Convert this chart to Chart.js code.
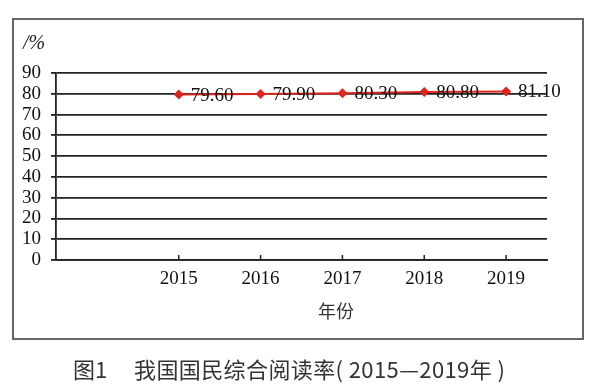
<!DOCTYPE html>
<html>
<head>
<meta charset="utf-8">
<script src="https://cdn.jsdelivr.net/npm/chart.js@4.4.1/dist/chart.umd.min.js"></script>
<style>
    body { margin: 0; background: #fff; }
    #wrap { position: relative; width: 600px; height: 391px; overflow: hidden; }
    #frame { position: absolute; left: 12px; top: 18px; width: 568px; height: 318px; border: 2px solid #666; }
    canvas { position: absolute; left: 0; top: 0; }
    .txt { position: absolute; white-space: pre; color: #222; }
    #unit { left: 23px; top: 31px; font: italic 20px "Liberation Serif", serif; }
    #xtitle { left: 318px; top: 297px; font: 18px "Noto Sans CJK SC", sans-serif; color: #333; }
    .cap { top: 352px; font: 22px "Noto Sans CJK SC", sans-serif; color: #333; }
    #cap1 { left: 73px; }
    #cap2 { left: 134px; letter-spacing: 0.4px; }
</style>
</head>
<body>
<div id="wrap">
    <div id="frame"></div>
    <canvas id="rateChart" width="600" height="391"></canvas>
    <div class="txt" id="unit">/%</div>
    <div class="txt" id="xtitle">年份</div>
    <div class="txt cap" id="cap1">图1</div>
    <div class="txt cap" id="cap2">我国国民综合阅读率( 2015—2019年 )</div>
</div>
<script>
// first slot is an empty category, as in the original chart
const years = ['', '2015', '2016', '2017', '2018', '2019'];
const readingRate = [null, 79.6, 79.9, 80.3, 80.8, 81.1];
const yTicks = [0, 10, 20, 30, 40, 50, 60, 70, 80, 90];

const lineColor = '#222';

// value labels to the right of each point
const valueLabels = {
    id: 'valueLabels',
    afterDatasetsDraw(chart) {
        const ctx = chart.ctx;
        const meta = chart.getDatasetMeta(0);
        ctx.save();
        ctx.font = '19px "Liberation Serif", serif';
        ctx.fillStyle = '#111';
        ctx.textAlign = 'left';
        ctx.textBaseline = 'middle';
        meta.data.forEach((pt, i) => {
            if (readingRate[i] == null) return;
            ctx.fillText(readingRate[i].toFixed(2), pt.x + 12, pt.y + 1);
        });
        ctx.restore();
    }
};

// small upward tick marks on the x axis
const xTickMarks = {
    id: 'xTickMarks',
    afterDraw(chart) {
        const ctx = chart.ctx;
        const x = chart.scales.x;
        const bottom = chart.chartArea.bottom;
        ctx.save();
        ctx.strokeStyle = lineColor;
        ctx.lineWidth = 1.5;
        years.forEach((y, i) => {
            if (!y) return;
            const px = x.getPixelForTick(i);
            ctx.beginPath();
            ctx.moveTo(px, bottom);
            ctx.lineTo(px, bottom - 5);
            ctx.stroke();
        });
        ctx.restore();
    }
};

new Chart(document.getElementById('rateChart'), {
    type: 'line',
    data: {
        labels: years,
        datasets: [{
            data: readingRate,
            borderColor: '#e0261c',
            backgroundColor: '#e0261c',
            borderWidth: 2,
            pointStyle: 'rectRot',
            pointRadius: 5,
            pointBorderWidth: 0,
            spanGaps: true
        }]
    },
    options: {
        responsive: false,
        animation: false,
        layout: { padding: { left: 0, right: 53, top: 73, bottom: 91 } },
        plugins: { legend: { display: false }, tooltip: { enabled: false } },
        scales: {
            x: {
                offset: true,
                grid: { drawOnChartArea: false, drawTicks: false },
                border: { display: true, color: lineColor, width: 1.8 },
                ticks: { color: '#111', padding: 8, font: { family: 'Liberation Serif', size: 19 }, maxRotation: 0, autoSkip: false },
                afterFit(scale) { scale.height = 40; }
            },
            y: {
                min: 0,
                max: 90,
                afterBuildTicks(scale) { scale.ticks = yTicks.map(v => ({ value: v })); },
                grid: { color: lineColor, lineWidth: 1.8, drawTicks: true, tickLength: 5, tickColor: lineColor },
                border: { display: true, color: lineColor, width: 1.8 },
                ticks: { color: '#111', padding: 10, autoSkip: false, font: { family: 'Liberation Serif', size: 19 } },
                afterFit(scale) { scale.width = 56; }
            }
        }
    },
    plugins: [valueLabels, xTickMarks]
});
</script>
</body>
</html>
